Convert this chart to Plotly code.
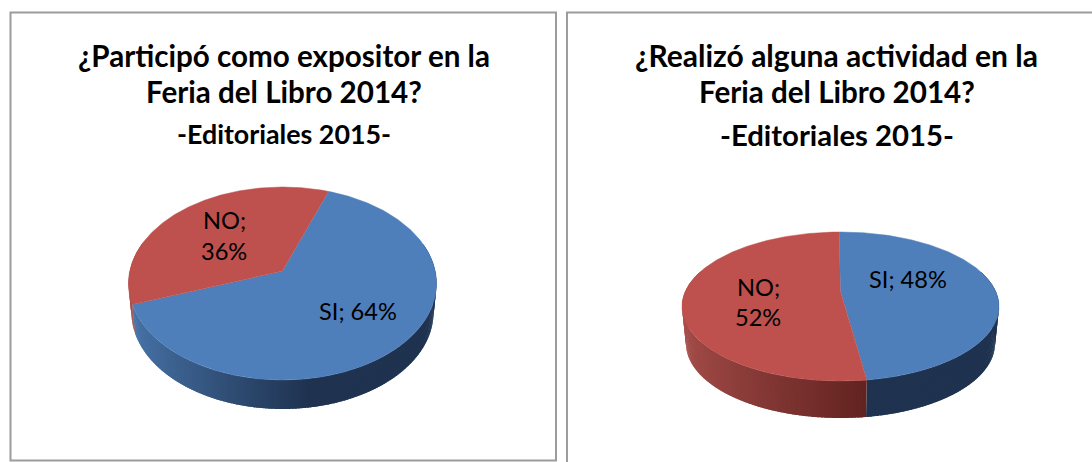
import numpy as np
import plotly.graph_objects as go

labels = ["SI", "NO"]
left_values = [64, 36]
right_values = [48, 52]
left_title = ["¿Participó como expositor en la", "Feria del Libro 2014?", "-Editoriales 2015-"]
right_title = ["¿Realizó alguna actividad en la", "Feria del Libro 2014?", "-Editoriales 2015-"]

TOP = {"SI": "#4F7FBB", "NO": "#BE504D"}
WALL_LIGHT = {"SI": (74, 119, 173), "NO": (168, 79, 76)}
WALL_DARK = {"SI": (31, 51, 80), "NO": (98, 35, 32)}

def project(theta, cx, cy, A, B, k):
    X, Y = np.sin(theta), -np.cos(theta)
    w = 1 - k * Y
    return cx + A * X / w, cy + B * Y / w

def pie(fig, values, start_deg, cx, cy, a, top, bottom, depth, shrink):
    above, below = cy - top, bottom - cy
    k = (below / above - 1) / (below / above + 1)
    B = below * (1 - k)
    A = a * np.sqrt(1 - k * k)
    A2 = (a - shrink) * np.sqrt(1 - k * k)
    total = sum(values)
    edges = np.radians(start_deg + np.cumsum([0] + values) / total * 360)
    step = np.radians(1.0)
    for i, name in enumerate(labels):
        n = max(int((edges[i + 1] - edges[i]) / step), 2)
        ts = np.linspace(edges[i], edges[i + 1], n + 1)
        for t0, t1 in zip(ts[:-1], ts[1:]):
            if np.cos((t0 + t1) / 2) > 0.3:
                continue
            arc = np.linspace(t0, min(t1 + step * 0.8, edges[i + 1]), 3)
            x0, y0 = project(arc, cx, cy, A, B, k)
            x1, y1 = project(arc[::-1], cx, cy + depth, A2, B, k)
            u = np.clip((np.sin((t0 + t1) / 2) + 1) / 1.15, 0, 1)
            c = [int(l + (d - l) * u) for l, d in zip(WALL_LIGHT[name], WALL_DARK[name])]
            col = f"rgb({c[0]},{c[1]},{c[2]})"
            fig.add_trace(go.Scatter(x=np.r_[x0, x1], y=np.r_[y0, y1], mode="none", fill="toself",
                                     fillcolor=col, hoverinfo="skip"))
    for i, name in enumerate(labels):
        ts = np.linspace(edges[i], edges[i + 1], 240)
        x, y = project(ts, cx, cy, A, B, k)
        fig.add_trace(go.Scatter(x=np.r_[cx, x], y=np.r_[cy, y], mode="lines", fill="toself",
                                 fillcolor=TOP[name], line=dict(color=TOP[name], width=0.5), hoverinfo="skip"))

fig = go.Figure()
pie(fig, left_values, 19.8, 282.5, 271, 154, 187, 380, 29, 3)
pie(fig, right_values, -0.6, 840.5, 291.7, 158.5, 232, 381, 37, 4)

ann = []
def text(x, y, s, size, bold=False):
    ann.append(dict(x=x, y=y, text=f"<b>{s}</b>" if bold else s, showarrow=False, xanchor="center", yanchor="middle",
                    font=dict(family="Lato", size=size, color="#000000"), align="center"))

for s, y, sz in zip(left_title, [55, 91, 134], [29.6, 29.6, 26.8]):
    text(284, y, s, sz, True)
for s, y, sz in zip(right_title, [55, 91, 134], [30, 29.6, 29.3]):
    text(836.5, y, s, sz, True)
text(358, 311, f"{labels[0]}; {left_values[0]}%", 23.6)
text(224, 220, f"{labels[1]};", 23.6)
text(224, 251, f"{left_values[1]}%", 23.6)
text(908, 279, f"{labels[0]}; {right_values[0]}%", 23.6)
text(758, 287, f"{labels[1]};", 23.6)
text(758, 317, f"{right_values[1]}%", 23.6)

shapes = [
    dict(type="rect", x0=10.5, y0=12.5, x1=556, y1=460.5, line=dict(color="#9C9C9C", width=2), layer="below"),
    dict(type="rect", x0=567, y0=12.5, x1=1100, y1=480, line=dict(color="#9C9C9C", width=2), layer="below"),
]
fig.update_layout(width=1092, height=462, margin=dict(l=0, r=0, t=0, b=0), showlegend=False,
                  paper_bgcolor="white", plot_bgcolor="white", annotations=ann, shapes=shapes,
                  xaxis=dict(range=[0, 1092], visible=False, fixedrange=True),
                  yaxis=dict(range=[462, 0], visible=False, fixedrange=True))
fig.write_html("out.html", config=dict(displayModeBar=False),
               post_script="document.body.style.margin='0';document.documentElement.style.overflow='hidden';")
